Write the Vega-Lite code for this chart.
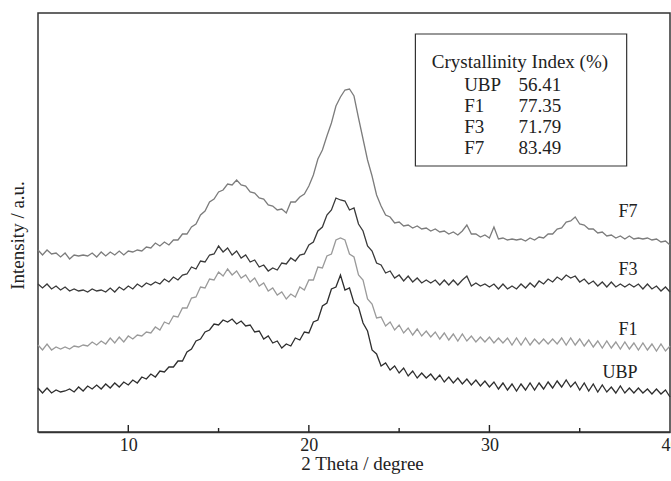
{
  "$schema": "https://vega.github.io/schema/vega-lite/v6.json",
  "width": 632,
  "height": 419,
  "autosize": {"type": "none"},
  "padding": {"left": 38, "top": 13, "right": 1, "bottom": 49},
  "background": "white",
  "config": {
    "font": "Liberation Serif",
    "view": {"stroke": "#333333", "strokeWidth": 1.5}
  },
  "datasets": {
    "xrd": [
      {"theta":5,"UBP":44,"F1":87,"F3":148,"F7":182},
      {"theta":5.25,"UBP":39,"F1":82,"F3":144,"F7":177},
      {"theta":5.5,"UBP":44,"F1":88,"F3":148,"F7":182},
      {"theta":5.75,"UBP":39,"F1":82,"F3":143,"F7":178},
      {"theta":6,"UBP":42,"F1":85,"F3":146,"F7":179},
      {"theta":6.25,"UBP":40,"F1":83,"F3":142,"F7":175},
      {"theta":6.5,"UBP":41,"F1":85,"F3":145,"F7":179},
      {"theta":6.75,"UBP":43,"F1":83,"F3":141,"F7":173},
      {"theta":7,"UBP":40,"F1":86,"F3":143,"F7":177},
      {"theta":7.25,"UBP":45,"F1":85,"F3":141,"F7":176},
      {"theta":7.5,"UBP":41,"F1":87,"F3":142,"F7":177},
      {"theta":7.75,"UBP":46,"F1":86,"F3":140,"F7":176},
      {"theta":8,"UBP":43,"F1":90,"F3":143,"F7":179},
      {"theta":8.25,"UBP":47,"F1":87,"F3":141,"F7":175},
      {"theta":8.5,"UBP":43,"F1":91,"F3":142,"F7":180},
      {"theta":8.75,"UBP":48,"F1":88,"F3":140,"F7":176},
      {"theta":9,"UBP":44,"F1":94,"F3":144,"F7":180},
      {"theta":9.25,"UBP":49,"F1":89,"F3":140,"F7":177},
      {"theta":9.5,"UBP":45,"F1":95,"F3":145,"F7":181},
      {"theta":9.75,"UBP":50,"F1":90,"F3":142,"F7":177},
      {"theta":10,"UBP":47,"F1":96,"F3":146,"F7":181},
      {"theta":10.25,"UBP":52,"F1":93,"F3":143,"F7":180},
      {"theta":10.5,"UBP":49,"F1":97,"F3":148,"F7":182},
      {"theta":10.75,"UBP":55,"F1":96,"F3":145,"F7":181},
      {"theta":11,"UBP":53,"F1":100,"F3":149,"F7":185},
      {"theta":11.25,"UBP":58,"F1":99,"F3":147,"F7":184},
      {"theta":11.5,"UBP":55,"F1":105,"F3":150,"F7":189},
      {"theta":11.75,"UBP":61,"F1":102,"F3":148,"F7":186},
      {"theta":12,"UBP":60,"F1":110,"F3":153,"F7":190},
      {"theta":12.25,"UBP":65,"F1":108,"F3":150,"F7":187},
      {"theta":12.5,"UBP":65,"F1":116,"F3":155,"F7":192},
      {"theta":12.75,"UBP":71,"F1":115,"F3":152,"F7":192},
      {"theta":13,"UBP":71,"F1":124,"F3":157,"F7":198},
      {"theta":13.25,"UBP":80,"F1":124,"F3":158,"F7":198},
      {"theta":13.5,"UBP":83,"F1":134,"F3":165,"F7":205},
      {"theta":13.75,"UBP":91,"F1":135,"F3":163,"F7":208},
      {"theta":14,"UBP":93,"F1":145,"F3":171,"F7":217},
      {"theta":14.25,"UBP":100,"F1":144,"F3":170,"F7":221},
      {"theta":14.5,"UBP":102,"F1":153,"F3":177,"F7":230},
      {"theta":14.75,"UBP":108,"F1":152,"F3":178,"F7":233},
      {"theta":15,"UBP":107,"F1":160,"F3":186,"F7":240},
      {"theta":15.25,"UBP":112,"F1":156,"F3":180,"F7":242},
      {"theta":15.5,"UBP":110,"F1":163,"F3":184,"F7":248},
      {"theta":15.75,"UBP":113,"F1":157,"F3":177,"F7":247},
      {"theta":16,"UBP":108,"F1":161,"F3":181,"F7":252},
      {"theta":16.25,"UBP":111,"F1":154,"F3":174,"F7":247},
      {"theta":16.5,"UBP":106,"F1":157,"F3":177,"F7":246},
      {"theta":16.75,"UBP":107,"F1":150,"F3":170,"F7":240},
      {"theta":17,"UBP":100,"F1":154,"F3":172,"F7":239},
      {"theta":17.25,"UBP":101,"F1":146,"F3":165,"F7":234},
      {"theta":17.5,"UBP":93,"F1":149,"F3":167,"F7":233},
      {"theta":17.75,"UBP":96,"F1":141,"F3":161,"F7":227},
      {"theta":18,"UBP":89,"F1":144,"F3":164,"F7":226},
      {"theta":18.25,"UBP":91,"F1":137,"F3":162,"F7":222},
      {"theta":18.5,"UBP":84,"F1":140,"F3":169,"F7":223},
      {"theta":18.75,"UBP":88,"F1":133,"F3":168,"F7":219},
      {"theta":19,"UBP":86,"F1":138,"F3":174,"F7":230},
      {"theta":19.25,"UBP":94,"F1":135,"F3":171,"F7":230},
      {"theta":19.5,"UBP":92,"F1":145,"F3":177,"F7":235},
      {"theta":19.75,"UBP":100,"F1":142,"F3":178,"F7":238},
      {"theta":20,"UBP":99,"F1":152,"F3":187,"F7":246},
      {"theta":20.25,"UBP":110,"F1":152,"F3":190,"F7":257},
      {"theta":20.5,"UBP":112,"F1":165,"F3":201,"F7":273},
      {"theta":20.75,"UBP":126,"F1":164,"F3":205,"F7":282},
      {"theta":21,"UBP":129,"F1":176,"F3":217,"F7":296},
      {"theta":21.25,"UBP":143,"F1":178,"F3":222,"F7":309},
      {"theta":21.5,"UBP":145,"F1":192,"F3":234,"F7":326},
      {"theta":21.75,"UBP":157,"F1":194,"F3":232,"F7":335},
      {"theta":22,"UBP":142,"F1":192,"F3":231,"F7":342},
      {"theta":22.25,"UBP":144,"F1":178,"F3":222,"F7":343},
      {"theta":22.5,"UBP":129,"F1":175,"F3":224,"F7":336},
      {"theta":22.75,"UBP":125,"F1":157,"F3":208,"F7":314},
      {"theta":23,"UBP":109,"F1":152,"F3":201,"F7":293},
      {"theta":23.25,"UBP":101,"F1":133,"F3":186,"F7":272},
      {"theta":23.5,"UBP":82,"F1":128,"F3":181,"F7":256},
      {"theta":23.75,"UBP":78,"F1":114,"F3":169,"F7":237},
      {"theta":24,"UBP":66,"F1":115,"F3":167,"F7":226},
      {"theta":24.25,"UBP":69,"F1":106,"F3":159,"F7":217},
      {"theta":24.5,"UBP":62,"F1":110,"F3":161,"F7":215},
      {"theta":24.75,"UBP":66,"F1":102,"F3":154,"F7":209},
      {"theta":25,"UBP":59,"F1":107,"F3":157,"F7":210},
      {"theta":25.25,"UBP":64,"F1":99,"F3":151,"F7":206},
      {"theta":25.5,"UBP":56,"F1":104,"F3":156,"F7":207},
      {"theta":25.75,"UBP":61,"F1":97,"F3":150,"F7":204},
      {"theta":26,"UBP":54,"F1":103,"F3":154,"F7":206},
      {"theta":26.25,"UBP":59,"F1":96,"F3":149,"F7":203},
      {"theta":26.5,"UBP":54,"F1":101,"F3":152,"F7":204},
      {"theta":26.75,"UBP":58,"F1":95,"F3":149,"F7":201},
      {"theta":27,"UBP":52,"F1":100,"F3":152,"F7":203},
      {"theta":27.25,"UBP":57,"F1":93,"F3":147,"F7":200},
      {"theta":27.5,"UBP":50,"F1":99,"F3":152,"F7":201},
      {"theta":27.75,"UBP":55,"F1":92,"F3":147,"F7":198},
      {"theta":28,"UBP":49,"F1":98,"F3":152,"F7":200},
      {"theta":28.25,"UBP":54,"F1":91,"F3":147,"F7":197},
      {"theta":28.5,"UBP":48,"F1":98,"F3":152,"F7":201},
      {"theta":28.75,"UBP":53,"F1":91,"F3":156,"F7":207},
      {"theta":29,"UBP":47,"F1":96,"F3":146,"F7":198},
      {"theta":29.25,"UBP":52,"F1":90,"F3":149,"F7":198},
      {"theta":29.5,"UBP":46,"F1":95,"F3":146,"F7":195},
      {"theta":29.75,"UBP":51,"F1":90,"F3":148,"F7":197},
      {"theta":30,"UBP":45,"F1":95,"F3":145,"F7":194},
      {"theta":30.25,"UBP":50,"F1":89,"F3":148,"F7":205},
      {"theta":30.5,"UBP":43,"F1":94,"F3":143,"F7":193},
      {"theta":30.75,"UBP":49,"F1":89,"F3":148,"F7":194},
      {"theta":31,"UBP":42,"F1":94,"F3":143,"F7":192},
      {"theta":31.25,"UBP":48,"F1":87,"F3":146,"F7":193},
      {"theta":31.5,"UBP":41,"F1":94,"F3":143,"F7":192},
      {"theta":31.75,"UBP":48,"F1":87,"F3":148,"F7":193},
      {"theta":32,"UBP":42,"F1":94,"F3":144,"F7":191},
      {"theta":32.25,"UBP":49,"F1":87,"F3":149,"F7":194},
      {"theta":32.5,"UBP":42,"F1":93,"F3":145,"F7":192},
      {"theta":32.75,"UBP":49,"F1":88,"F3":151,"F7":195},
      {"theta":33,"UBP":43,"F1":93,"F3":148,"F7":194},
      {"theta":33.25,"UBP":50,"F1":88,"F3":153,"F7":198},
      {"theta":33.5,"UBP":44,"F1":93,"F3":150,"F7":198},
      {"theta":33.75,"UBP":51,"F1":88,"F3":155,"F7":203},
      {"theta":34,"UBP":45,"F1":94,"F3":152,"F7":204},
      {"theta":34.25,"UBP":52,"F1":87,"F3":157,"F7":210},
      {"theta":34.5,"UBP":45,"F1":94,"F3":154,"F7":211},
      {"theta":34.75,"UBP":50,"F1":87,"F3":156,"F7":215},
      {"theta":35,"UBP":42,"F1":93,"F3":150,"F7":208},
      {"theta":35.25,"UBP":49,"F1":86,"F3":153,"F7":207},
      {"theta":35.5,"UBP":41,"F1":92,"F3":148,"F7":203},
      {"theta":35.75,"UBP":48,"F1":85,"F3":151,"F7":203},
      {"theta":36,"UBP":40,"F1":91,"F3":146,"F7":199},
      {"theta":36.25,"UBP":47,"F1":84,"F3":150,"F7":200},
      {"theta":36.5,"UBP":40,"F1":91,"F3":145,"F7":196},
      {"theta":36.75,"UBP":45,"F1":84,"F3":150,"F7":197},
      {"theta":37,"UBP":39,"F1":90,"F3":145,"F7":194},
      {"theta":37.25,"UBP":46,"F1":83,"F3":148,"F7":196},
      {"theta":37.5,"UBP":39,"F1":90,"F3":145,"F7":193},
      {"theta":37.75,"UBP":44,"F1":83,"F3":148,"F7":196},
      {"theta":38,"UBP":39,"F1":89,"F3":145,"F7":193},
      {"theta":38.25,"UBP":44,"F1":82,"F3":148,"F7":194},
      {"theta":38.5,"UBP":39,"F1":89,"F3":143,"F7":193},
      {"theta":38.75,"UBP":43,"F1":82,"F3":148,"F7":194},
      {"theta":39,"UBP":38,"F1":88,"F3":143,"F7":192},
      {"theta":39.25,"UBP":43,"F1":81,"F3":146,"F7":193},
      {"theta":39.5,"UBP":38,"F1":88,"F3":141,"F7":190},
      {"theta":39.75,"UBP":42,"F1":81,"F3":145,"F7":191},
      {"theta":40,"UBP":35,"F1":86,"F3":140,"F7":187}
    ],
    "ci": [
      {"sample":"UBP","ci":56.41},
      {"sample":"F1","ci":77.35},
      {"sample":"F3","ci":71.79},
      {"sample":"F7","ci":83.49}
    ],
    "tags": [
      {"sample":"F7","theta":38.2,"intensity":220},
      {"sample":"F3","theta":38.2,"intensity":162},
      {"sample":"F1","theta":38.2,"intensity":102},
      {"sample":"UBP","theta":38.2,"intensity":59}
    ],
    "majorTicks": [{"tick":10},{"tick":20},{"tick":30}],
    "minorTicks": [{"tick":15},{"tick":25},{"tick":35}]
  },
  "layer": [
    {
      "data": {"name": "xrd"},
      "transform": [{"fold": ["UBP","F1","F3","F7"], "as": ["sample","intensity"]}],
      "mark": {"type": "line", "strokeWidth": 1.3},
      "encoding": {
        "x": {
          "field": "theta", "type": "quantitative",
          "scale": {"domain": [5,40], "nice": false, "zero": false},
          "axis": {
            "title": "2 Theta / degree",
            "values": [10,20,30,40],
            "ticks": false,
            "domainColor": "#333333", "domainWidth": 1.5,
            "grid": false, "labelFlush": false,
            "labelFontSize": 18, "labelColor": "#222222", "labelPadding": 13, "labelBaseline": "middle",
            "titleFontSize": 19, "titleFontWeight": "normal", "titleColor": "#222222",
            "titleX": 324, "titleY": 31, "titleBaseline": "middle", "titleAlign": "center", "titleAnchor": null
          }
        },
        "y": {
          "field": "intensity", "type": "quantitative",
          "scale": {"domain": [0,419], "nice": false, "zero": false},
          "axis": {
            "title": "Intensity / a.u.",
            "ticks": false, "labels": false, "domain": false, "grid": false,
            "titleFontSize": 19, "titleFontWeight": "normal", "titleColor": "#222222",
            "titleAngle": -90, "titleX": -21, "titleY": 222, "titleBaseline": "middle", "titleAlign": "center"
          }
        },
        "color": {
          "field": "sample", "type": "nominal",
          "scale": {"domain": ["UBP","F1","F3","F7"], "range": ["#2e2e2e","#9a9a9a","#3a3a3a","#7c7c7c"]},
          "legend": null
        }
      }
    },
    {
      "data": {"name": "majorTicks"},
      "mark": {"type": "rule", "color": "#222222", "strokeWidth": 1.4},
      "encoding": {
        "x": {"field": "tick", "type": "quantitative"},
        "y": {"datum": 0, "type": "quantitative"},
        "y2": {"datum": 7}
      }
    },
    {
      "data": {"name": "minorTicks"},
      "mark": {"type": "rule", "color": "#222222", "strokeWidth": 1.4},
      "encoding": {
        "x": {"field": "tick", "type": "quantitative"},
        "y": {"datum": 0, "type": "quantitative"},
        "y2": {"datum": 4}
      }
    },
    {
      "data": {"values": [{}]},
      "mark": {"type": "rect", "fill": "white", "stroke": "#333333", "strokeWidth": 1.2},
      "encoding": {
        "x": {"datum": 25.9, "type": "quantitative"},
        "x2": {"datum": 37.6},
        "y": {"datum": 266, "type": "quantitative"},
        "y2": {"datum": 398}
      }
    },
    {
      "data": {"values": [{}]},
      "mark": {"type": "text", "fontSize": 19, "color": "#222222", "align": "center", "baseline": "middle"},
      "encoding": {
        "x": {"datum": 31.69, "type": "quantitative"},
        "y": {"datum": 370, "type": "quantitative"},
        "text": {"value": "Crystallinity Index (%)"}
      }
    },
    {
      "data": {"name": "ci"},
      "mark": {"type": "text", "fontSize": 19, "color": "#222222", "align": "left", "baseline": "middle"},
      "encoding": {
        "x": {"datum": 28.6, "type": "quantitative"},
        "y": {"datum": 347, "type": "quantitative"},
        "yOffset": {"field": "sample", "type": "nominal", "scale": {"type": "point", "padding": 0, "domain": ["UBP","F1","F3","F7"], "range": [0,63]}},
        "text": {"field": "sample"}
      }
    },
    {
      "data": {"name": "ci"},
      "mark": {"type": "text", "fontSize": 19, "color": "#222222", "align": "center", "baseline": "middle"},
      "encoding": {
        "x": {"datum": 32.8, "type": "quantitative"},
        "y": {"datum": 347, "type": "quantitative"},
        "yOffset": {"field": "sample", "type": "nominal", "scale": {"type": "point", "padding": 0, "domain": ["UBP","F1","F3","F7"], "range": [0,63]}},
        "text": {"field": "ci", "type": "quantitative", "format": ".2f"}
      }
    },
    {
      "data": {"name": "tags"},
      "mark": {"type": "text", "fontSize": 18, "color": "#222222", "align": "right", "baseline": "middle"},
      "encoding": {
        "x": {"field": "theta", "type": "quantitative"},
        "y": {"field": "intensity", "type": "quantitative"},
        "text": {"field": "sample"}
      }
    }
  ]
}
